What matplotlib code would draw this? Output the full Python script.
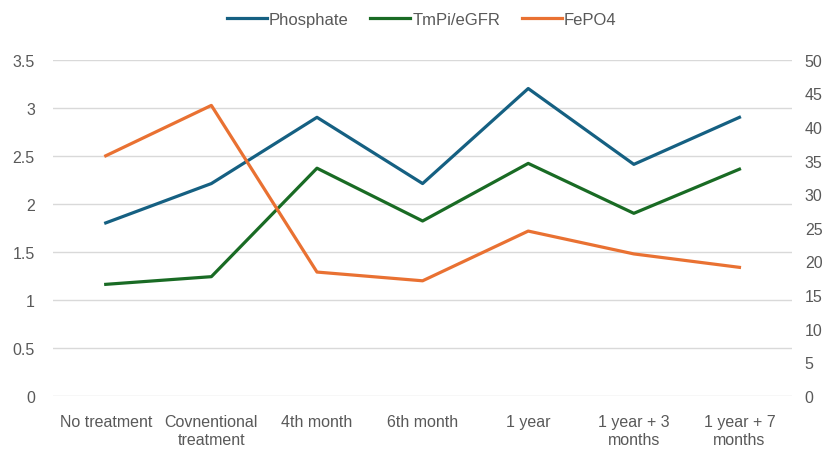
import numpy as np
import matplotlib.pyplot as plt

plt.rcParams['font.family'] = ['Liberation Sans', 'DejaVu Sans']

categories = ['No treatment', 'Covnentional\ntreatment', '4th month', '6th month',
              '1 year', '1 year + 3\nmonths', '1 year + 7\nmonths']
phosphate = [1.80, 2.21, 2.90, 2.21, 3.20, 2.41, 2.90]
tmpi_egfr = [1.16, 1.24, 2.37, 1.82, 2.42, 1.90, 2.36]
fepo4 = [35.7, 43.2, 18.4, 17.1, 24.5, 21.1, 19.1]

left_ticks = [0, 0.5, 1, 1.5, 2, 2.5, 3, 3.5]
right_ticks = [0, 5, 10, 15, 20, 25, 30, 35, 40, 45, 50]

c_blue = '#156082'
c_green = '#196B24'
c_orange = '#E97132'
c_text = '#595959'

fig = plt.figure(figsize=(8.27, 4.6), dpi=100)
ax = fig.add_axes([0.064, 0.1376, 0.894, 0.7304])
ax2 = ax.twinx()

x = np.arange(len(categories))
l1, = ax.plot(x, phosphate, color=c_blue, lw=2.3, label='Phosphate')
l2, = ax.plot(x, tmpi_egfr, color=c_green, lw=2.3, label='TmPi/eGFR')
l3, = ax2.plot(x, fepo4, color=c_orange, lw=2.3, label='FePO4')

ax.set_xlim(-0.5, len(categories) - 0.5)
ax.set_ylim(0, 3.5)
ax2.set_ylim(0, 50)
ax.set_yticks(left_ticks)
ax.set_yticklabels([('%g' % t) for t in left_ticks])
ax2.set_yticks(right_ticks)

ax.grid(axis='y', color='#d9d9d9', lw=1)
ax.set_axisbelow(True)
ax.set_xticks(x)
ax.set_xticklabels(categories, color=c_text, fontsize=11.5, linespacing=1.3)

for a in (ax, ax2):
    for s in a.spines.values():
        s.set_visible(False)
    a.tick_params(length=0, labelsize=11.5, labelcolor=c_text)
ax.tick_params(axis='y', pad=13)
ax2.tick_params(axis='y', pad=9)
ax.tick_params(axis='x', pad=13)

fig.legend(handles=[l1, l2, l3], loc='upper center', bbox_to_anchor=(0.51, 1.005),
           ncol=3, frameon=False, fontsize=12, labelcolor=c_text,
           handlelength=2.4, handletextpad=0.12, columnspacing=1.3)

fig.savefig('out.png', dpi=100)
